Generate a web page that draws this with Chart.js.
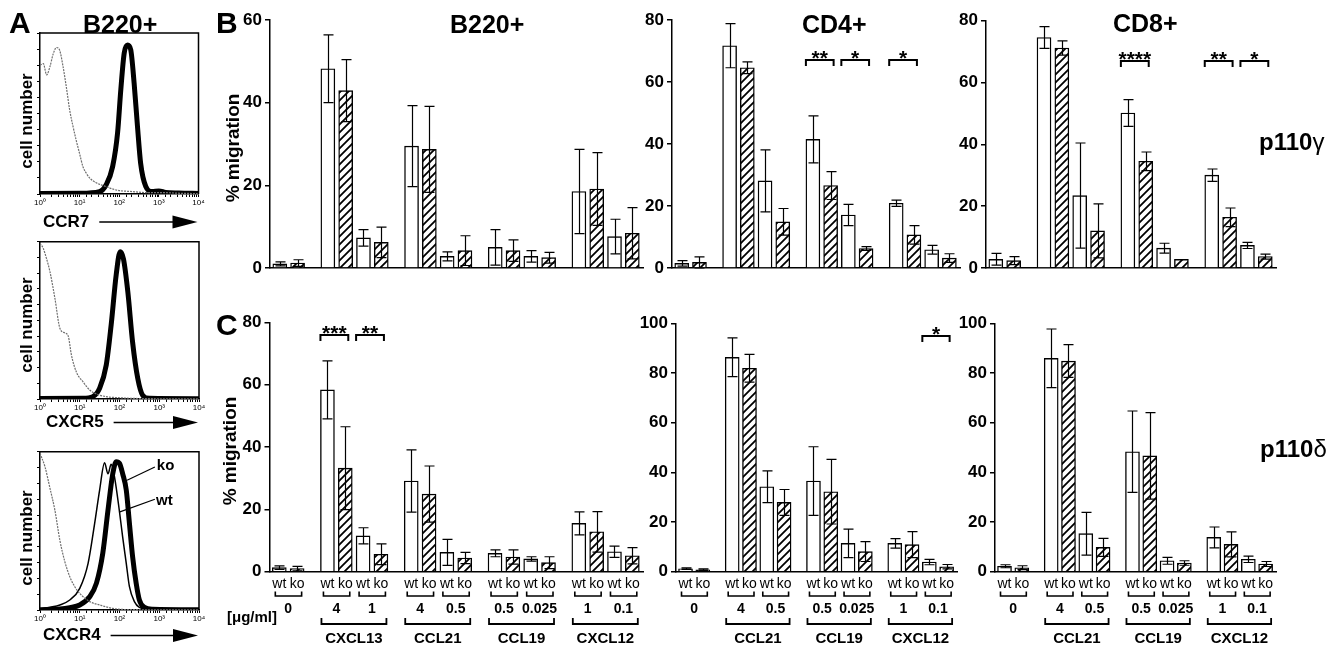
<!DOCTYPE html>
<html><head><meta charset="utf-8">
<script src="https://cdn.jsdelivr.net/npm/chart.js@4.4.1/dist/chart.umd.min.js"></script>
<style>
html,body{margin:0;padding:0;background:#fff}
body{width:1341px;height:645px;position:relative;overflow:hidden;font-family:"Liberation Sans",Arial,Helvetica,sans-serif}
canvas{position:absolute}
.t{position:absolute;font-weight:bold;color:#000;white-space:nowrap;line-height:1}
</style></head><body>
<script>
// ================= DATA =================
// x-axis structure (chemokine groups and concentrations, ug/ml)
const chemB = ['', 'CXCL13', 'CCL21', 'CCL19', 'CXCL12'];
const concB = [['0'], ['4', '1'], ['4', '0.5'], ['0.5', '0.025'], ['1', '0.1']];
const chemT = ['', 'CCL21', 'CCL19', 'CXCL12'];
const concT = [['0'], ['4', '0.5'], ['0.5', '0.025'], ['1', '0.1']];
const pairLabels = ['wt', 'ko'];
const unitLabel = '[\u03bcg/ml]';

// ---- B: p110gamma, % migration (mean, error) ----
const gB220_wt    = [1.0, 48.2, 7.3, 29.5, 2.8, 5.0, 2.8, 18.5, 7.6];
const gB220_wtErr = [0.5, 8.2, 2.0, 9.8, 1.1, 4.3, 1.4, 10.2, 4.2];
const gB220_ko    = [1.2, 42.9, 6.2, 28.7, 4.2, 4.2, 2.5, 19.1, 8.4];
const gB220_koErr = [0.8, 7.5, 3.7, 10.4, 3.6, 2.6, 1.3, 8.8, 6.2];

const gCD4_wt    = [1.5, 71.7, 28.1, 41.5, 17.1, 20.9, 5.9];
const gCD4_wtErr = [0.9, 7.1, 10.0, 7.6, 3.4, 1.0, 1.4];
const gCD4_ko    = [1.8, 64.6, 14.9, 26.6, 6.3, 10.7, 3.2];
const gCD4_koErr = [1.8, 1.9, 4.3, 4.5, 0.6, 3.0, 1.4];

const gCD8_wt    = [2.8, 74.5, 23.4, 50.1, 6.4, 30.0, 7.3];
const gCD8_wtErr = [1.9, 3.5, 17.0, 4.3, 1.6, 2.0, 1.0];
const gCD8_ko    = [2.4, 71.1, 12.0, 34.5, 2.8, 16.4, 3.7];
const gCD8_koErr = [1.3, 2.3, 8.7, 3.0, 0.0, 3.0, 0.8];

// ---- C: p110delta ----
const dB220_wt    = [1.3, 58.3, 11.5, 29.1, 6.2, 5.9, 4.1, 15.5, 6.4];
const dB220_wtErr = [0.6, 9.3, 2.6, 10.0, 4.2, 1.1, 0.7, 3.7, 1.8];
const dB220_ko    = [1.0, 33.2, 5.6, 24.9, 4.4, 4.7, 2.9, 12.8, 5.1];
const dB220_koErr = [0.7, 13.3, 3.3, 9.0, 1.8, 2.3, 1.9, 6.5, 2.6];

const dCD4_wt    = [1.2, 86.3, 34.2, 36.5, 11.4, 11.4, 3.9];
const dCD4_wtErr = [0.3, 7.8, 6.4, 13.8, 5.7, 1.9, 1.1];
const dCD4_ko    = [0.8, 81.9, 27.9, 32.2, 8.1, 10.9, 2.0];
const dCD4_koErr = [0.3, 5.6, 5.2, 13.0, 4.0, 5.2, 0.9];

const dCD8_wt    = [2.2, 85.9, 15.3, 48.3, 4.4, 13.8, 5.0];
const dCD8_wtErr = [0.6, 11.8, 8.6, 16.4, 1.4, 4.2, 1.3];
const dCD8_ko    = [1.6, 84.8, 9.8, 46.6, 3.5, 11.0, 3.1];
const dCD8_koErr = [0.8, 6.6, 3.6, 17.4, 0.9, 5.0, 1.0];

// significance: [condition index, stars]
const sig_gCD4 = [[3, '**'], [4, '*'], [5, '*']];
const sig_gCD8 = [[3, '****'], [5, '**'], [6, '*']];
const sig_dB220 = [[1, '***'], [2, '**']];
const sig_dCD4 = [[6, '*']];

// ---- A: flow histograms (log10 fluorescence, % of max) ----
const h1_grayX = [0,0.083,0.167,0.25,0.333,0.417,0.5,0.583,0.667,0.75,0.833,0.917,1.0,1.083,1.167,1.25,1.417,1.667,1.917,2.333,2.75,3.167,3.583,4];
const h1_grayY = [80,81,74,79,87,91,89,79,66,52,42,33,25,17,13,10,7,4.6,2.5,1.5,0.8,0.8,0.4,0.3];
const h1_koX = [0,1.0,1.5,1.667,1.833,1.958,2.04,2.125,2.21,2.29,2.375,2.46,2.54,2.67,2.83,3.0,3.17,3.5,4];
const h1_koY = [0.3,0.5,1.5,5.6,17,38,65,87.5,92.5,89.6,69,42,19,4.6,1.5,1.9,1,0.6,0.3];
const h1_wtY = [0.3,0.6,2,7,20,42,68,88,92,88,66,40,18,4.5,1.5,1.8,1,0.6,0.3];

const h2_grayX = [0,0.08,0.167,0.25,0.375,0.5,0.625,0.71,0.79,0.917,1.08,1.25,1.417,1.667,2,2.33,2.75,4];
const h2_grayY = [99,95.8,89,81,64,45,42,40,28,17,11,5.7,3.2,1.5,0.8,0.4,0.2,0.1];
const h2_koX = [0,1.08,1.33,1.5,1.667,1.79,1.917,2.017,2.1,2.21,2.33,2.46,2.58,2.75,4];
const h2_koY = [0.3,0.4,1.5,6.8,21.6,47,79,93.6,89,68,36,13,2.5,0.4,0.2];
const h2_wtY = [0.3,0.4,1.6,7.2,22.5,48,80,93,88,67,35,12.5,2.4,0.4,0.2];

const h3_grayX = [0,0.125,0.25,0.375,0.5,0.625,0.75,0.875,1.0,1.25,1.5,1.83,2.33,4];
const h3_grayY = [99,90.5,77,63,44,30.5,21,14.7,10.5,5.3,3.2,1,0.2,0.1];
const h3_wtX = [0,0.25,0.5,0.75,1.0,1.21,1.375,1.5,1.625,1.71,1.79,1.875,2.0,2.08,2.17,2.25,2.375,2.5,2.75,4];
const h3_wtY = [0.5,1.7,3.2,6.3,13.7,29.5,54.7,75.8,93,86,92,84,62,46,29.5,14.7,5.3,1.7,0.5,0.1];
const h3_koX = [0,0.5,0.75,1.0,1.25,1.42,1.58,1.71,1.83,1.92,2.0,2.08,2.17,2.25,2.33,2.42,2.5,2.625,2.83,4];
const h3_koY = [0.2,0.6,1.5,3.2,8.4,17,36,63,86,93.7,92.6,86,75.8,54.7,33.7,16.8,6.3,1.7,0.4,0.1];
const histDecades = [0, 1, 2, 3, 4];

// ================= RENDERING =================
const FONT = '"Liberation Sans", Arial, Helvetica, sans-serif';
const SUP = ['\u2070', '\u00b9', '\u00b2', '\u00b3', '\u2074'];
const GAP = 0.7;

function hatchPattern() {
  const c = document.createElement('canvas'); c.width = 8; c.height = 8;
  const g = c.getContext('2d');
  g.fillStyle = '#fff'; g.fillRect(0, 0, 8, 8);
  g.strokeStyle = '#000'; g.lineWidth = 1.8;
  g.beginPath();
  g.moveTo(-1, 9); g.lineTo(9, -1);
  g.moveTo(-1, 1); g.lineTo(1, -1);
  g.moveTo(7, 9); g.lineTo(9, 7);
  g.stroke();
  return g.createPattern(c, 'repeat');
}
const HATCH = hatchPattern();

function positions(conc) {
  const out = []; let i = 0;
  conc.forEach((g, gi) => g.forEach(() => { out.push([i + gi * GAP, i + 1 + gi * GAP]); i += 2; }));
  return out;
}

function text(str, x, base, fs, weight) {
  const d = document.createElement('div'); d.className = 't'; d.textContent = str;
  d.style.fontSize = fs + 'px'; d.style.left = x + 'px'; d.style.top = (base - 0.8465 * fs) + 'px';
  if (weight) d.style.fontWeight = weight;
  document.body.appendChild(d); return d;
}
function vtext(str, cx, cy, fs) {
  const d = document.createElement('div'); d.className = 't'; d.textContent = str;
  d.style.fontSize = fs + 'px'; d.style.left = cx + 'px'; d.style.top = cy + 'px';
  d.style.transform = 'translate(-50%,-50%) rotate(-90deg)';
  document.body.appendChild(d);
}
function makeCanvas(left, top, w, h) {
  const cv = document.createElement('canvas');
  cv.width = w; cv.height = h;
  cv.style.left = left + 'px'; cv.style.top = top + 'px';
  cv.style.width = w + 'px'; cv.style.height = h + 'px';
  document.body.appendChild(cv);
  return cv.getContext('2d');
}

function bracket(ctx, x1, x2, y, dy) {
  ctx.beginPath(); ctx.moveTo(x1, y + dy); ctx.lineTo(x1, y); ctx.lineTo(x2, y); ctx.lineTo(x2, y + dy); ctx.stroke();
}

function barPlugin(spec) {
  return {
    id: 'ann',
    afterDatasetsDraw(chart) {
      const ctx = chart.ctx, xs = chart.scales.x, ys = chart.scales.y;
      ctx.save();
      ctx.strokeStyle = '#000'; ctx.fillStyle = '#000'; ctx.lineWidth = 1.2;
      spec.pos.forEach((p, i) => {
        [[p[0], spec.wt[i], spec.wtErr[i]], [p[1], spec.ko[i], spec.koErr[i]]].forEach(([x, v, e]) => {
          if (!e) return;
          const px = Math.round(xs.getPixelForValue(x)) + 0.5;
          const yt = ys.getPixelForValue(v + e), yb = ys.getPixelForValue(Math.max(0, v - e));
          ctx.beginPath();
          ctx.moveTo(px, yt); ctx.lineTo(px, yb);
          ctx.moveTo(px - 5, yt); ctx.lineTo(px + 5, yt);
          ctx.moveTo(px - 5, yb); ctx.lineTo(px + 5, yb);
          ctx.stroke();
        });
      });
      // significance brackets
      ctx.lineWidth = 2;
      spec.sig.forEach(([c, s]) => {
        const p = spec.pos[c];
        const x1 = xs.getPixelForValue(p[0]) - 7, x2 = xs.getPixelForValue(p[1]) + 3;
        const y = Math.round(ys.getPixelForValue(spec.sigLevel));
        bracket(ctx, x1, x2, y, 6);
        ctx.font = 'bold 21px ' + FONT; ctx.textAlign = 'center'; ctx.textBaseline = 'alphabetic';
        ctx.fillText(s, (x1 + x2) / 2, y - 7 + 0.57 * 21);
      });
      // category labels below the axis
      if (spec.xlabels) {
        const b = chart.chartArea.bottom;
        ctx.textAlign = 'center'; ctx.textBaseline = 'middle';
        let ci = 0;
        spec.conc.forEach((grp, gi) => {
          const first = ci;
          grp.forEach(cv => {
            const p = spec.pos[ci];
            const xw = xs.getPixelForValue(p[0]), xk = xs.getPixelForValue(p[1]);
            ctx.font = '14px ' + FONT;
            ctx.fillText(pairLabels[0], xw, b + 12.5);
            ctx.fillText(pairLabels[1], xk, b + 12.5);
            ctx.lineWidth = 1.6;
            bracket(ctx, xw - 4, xk + 4.5, Math.round(b + 24.5), -4.5);
            ctx.font = 'bold 14px ' + FONT;
            ctx.fillText(cv, (xw + xk) / 2, b + 37);
            ci++;
          });
          if (spec.chem[gi]) {
            const x1 = xs.getPixelForValue(spec.pos[first][0]) - 6;
            const x2 = xs.getPixelForValue(spec.pos[ci - 1][1]) + 5.5;
            ctx.lineWidth = 1.8;
            bracket(ctx, x1, x2, Math.round(b + 52.5), -6);
            ctx.font = 'bold 15px ' + FONT;
            ctx.fillText(spec.chem[gi], (x1 + x2) / 2, b + 67.5);
          }
        });
      }
      ctx.restore();
    }
  };
}

function makeBar(spec) {
  const ctx = makeCanvas(spec.left, spec.top, spec.w, spec.h);
  const a = spec.area;
  spec.pos = positions(spec.conc);
  const xmax = spec.pos[spec.pos.length - 1][1] + 0.6;
  new Chart(ctx, {
    type: 'bar',
    data: {
      datasets: [
        { label: 'wt', data: spec.pos.map((p, i) => ({ x: p[0], y: spec.wt[i] })), backgroundColor: '#fff',
          borderColor: '#000', borderWidth: 1.4, barThickness: 14, grouped: false },
        { label: 'ko', data: spec.pos.map((p, i) => ({ x: p[1], y: spec.ko[i] })), backgroundColor: HATCH,
          borderColor: '#000', borderWidth: 1.4, barThickness: 14, grouped: false }
      ]
    },
    options: {
      responsive: false, animation: false, devicePixelRatio: 1,
      layout: { padding: { left: 0, right: spec.left + spec.w - a.right, top: a.top - spec.top, bottom: 0 } },
      plugins: { legend: { display: false }, tooltip: { enabled: false } },
      scales: {
        x: { type: 'linear', min: -0.55, max: xmax, offset: false,
             ticks: { display: false }, grid: { display: false },
             border: { display: true, color: '#000', width: 1.5 },
             afterFit: s => { s.height = spec.top + spec.h - a.bottom; } },
        y: { min: 0, max: spec.ymax,
             ticks: { stepSize: 20, color: '#000', font: { family: FONT, size: 17, weight: 'bold' }, padding: 3 },
             grid: { display: true, drawOnChartArea: false, drawTicks: true, tickLength: 5, color: '#000', lineWidth: 1.5 },
             border: { display: true, color: '#000', width: 1.5 },
             afterFit: s => { s.width = a.left - spec.left; } }
      }
    },
    plugins: [barPlugin(spec)]
  });
}

function histPlugin(spec) {
  return {
    id: 'hann',
    afterDraw(chart) {
      const ctx = chart.ctx, ca = chart.chartArea, xs = chart.scales.x, ys = chart.scales.y;
      ctx.save();
      ctx.strokeStyle = '#000'; ctx.fillStyle = '#000'; ctx.lineWidth = 1.5;
      ctx.beginPath(); ctx.moveTo(ca.left, ca.top); ctx.lineTo(ca.right, ca.top); ctx.lineTo(ca.right, ca.bottom); ctx.stroke();
      // axis label with arrow
      const ty = ca.bottom + spec.labDy;
      ctx.font = 'bold 17px ' + FONT; ctx.textAlign = 'left'; ctx.textBaseline = 'middle';
      ctx.fillText(spec.xlabel, spec.labX - spec.left, ty);
      const tw = ctx.measureText(spec.xlabel).width;
      ctx.lineWidth = 1.6;
      ctx.beginPath(); ctx.moveTo(spec.labX - spec.left + tw + 10, ty); ctx.lineTo(ca.right - 24, ty); ctx.stroke();
      ctx.beginPath(); ctx.moveTo(ca.right - 26, ty - 6.5); ctx.lineTo(ca.right - 1, ty); ctx.lineTo(ca.right - 26, ty + 6.5); ctx.closePath(); ctx.fill();
      // curve labels
      if (spec.notes) {
        ctx.font = 'bold 15px ' + FONT; ctx.lineWidth = 1.2;
        spec.notes.forEach(n => {
          const tx = xs.getPixelForValue(Math.pow(10, n.t[0])), tyy = ys.getPixelForValue(n.t[1]);
          ctx.fillText(n.s, tx, tyy);
          ctx.beginPath();
          ctx.moveTo(xs.getPixelForValue(Math.pow(10, n.a[0])), ys.getPixelForValue(n.a[1]));
          ctx.lineTo(xs.getPixelForValue(Math.pow(10, n.b[0])), ys.getPixelForValue(n.b[1]));
          ctx.stroke();
        });
      }
      ctx.restore();
    }
  };
}

function makeHist(spec) {
  const ctx = makeCanvas(spec.left, spec.top, spec.w, spec.h);
  const a = spec.area;
  new Chart(ctx, {
    type: 'line',
    data: {
      datasets: spec.series.map(s => ({
        data: s.x.map((l, i) => ({ x: Math.pow(10, l), y: s.y[i] })),
        borderColor: s.c, borderWidth: s.w, borderDash: s.d || [], pointRadius: 0,
        cubicInterpolationMode: 'monotone', fill: false
      }))
    },
    options: {
      responsive: false, animation: false, devicePixelRatio: 1,
      layout: { padding: { left: 0, right: spec.left + spec.w - a.right, top: a.top - spec.top, bottom: 0 } },
      plugins: { legend: { display: false }, tooltip: { enabled: false } },
      scales: {
        x: { type: 'logarithmic', min: Math.pow(10, histDecades[0]), max: Math.pow(10, histDecades[histDecades.length - 1]),
             ticks: { color: '#000', font: { family: FONT, size: 8 }, padding: 1, maxRotation: 0, autoSkip: false,
                      callback: v => { const e = Math.log10(v); const r = Math.round(e);
                        return (Math.abs(e - r) < 1e-6 && histDecades.includes(r)) ? '10' + SUP[r] : ''; } },
             grid: { display: true, drawOnChartArea: false, tickLength: 3, color: '#000', lineWidth: 1 },
             border: { display: true, color: '#000', width: 1.5 },
             afterFit: s => { s.height = spec.top + spec.h - a.bottom; } },
        y: { min: 0, max: 100, ticks: { display: false, stepSize: 10 },
             grid: { display: true, drawOnChartArea: false, tickLength: 3, color: '#000', lineWidth: 1 },
             border: { display: true, color: '#000', width: 1.5 },
             afterFit: s => { s.width = a.left - spec.left; } }
      }
    },
    plugins: [histPlugin(spec)]
  });
}

const GRAY = '#707070';
makeHist({ left: 0, top: 0, w: 210, h: 238, area: { left: 40, right: 198.5, top: 33, bottom: 194 },
  xlabel: 'CCR7', labX: 43, labDy: 28,
  series: [ { x: h1_grayX, y: h1_grayY, c: GRAY, w: 1.2, d: [2, 1] },
            { x: h1_koX, y: h1_koY, c: '#000', w: 5 },
            { x: h1_koX, y: h1_wtY, c: '#000', w: 1.5 } ] });
makeHist({ left: 0, top: 232, w: 210, h: 205, area: { left: 40, right: 199, top: 241.7, bottom: 399 },
  xlabel: 'CXCR5', labX: 46, labDy: 23.5,
  series: [ { x: h2_grayX, y: h2_grayY, c: GRAY, w: 1.2, d: [2, 1] },
            { x: h2_koX, y: h2_koY, c: '#000', w: 5 },
            { x: h2_koX, y: h2_wtY, c: '#000', w: 1.5 } ] });
makeHist({ left: 0, top: 440, w: 210, h: 205, area: { left: 40, right: 199, top: 451.7, bottom: 610 },
  xlabel: 'CXCR4', labX: 43, labDy: 25.5,
  series: [ { x: h3_grayX, y: h3_grayY, c: GRAY, w: 1.2, d: [2, 1] },
            { x: h3_koX, y: h3_koY, c: '#000', w: 5 },
            { x: h3_wtX, y: h3_wtY, c: '#000', w: 1.5 } ],
  notes: [ { s: 'ko', t: [2.94, 91], a: [2.89, 90.3], b: [2.19, 82] },
           { s: 'wt', t: [2.92, 69], a: [2.89, 70], b: [2.01, 62] } ] });

makeBar({ left: 200, top: 0, w: 450, h: 300, area: { left: 270, right: 643, top: 20, bottom: 268 }, ymax: 60,
  conc: concB, chem: chemB, wt: gB220_wt, wtErr: gB220_wtErr, ko: gB220_ko, koErr: gB220_koErr, sig: [], sigLevel: 0, xlabels: false });
makeBar({ left: 600, top: 0, w: 370, h: 300, area: { left: 672, right: 960, top: 20, bottom: 268 }, ymax: 80,
  conc: concT, chem: chemT, wt: gCD4_wt, wtErr: gCD4_wtErr, ko: gCD4_ko, koErr: gCD4_koErr, sig: sig_gCD4, sigLevel: 67, xlabels: false });
makeBar({ left: 930, top: 0, w: 411, h: 300, area: { left: 986, right: 1276, top: 20.5, bottom: 268 }, ymax: 80,
  conc: concT, chem: chemT, wt: gCD8_wt, wtErr: gCD8_wtErr, ko: gCD8_ko, koErr: gCD8_koErr, sig: sig_gCD8, sigLevel: 67, xlabels: false });
makeBar({ left: 200, top: 300, w: 450, h: 345, area: { left: 269.5, right: 643, top: 322.3, bottom: 571.7 }, ymax: 80,
  conc: concB, chem: chemB, wt: dB220_wt, wtErr: dB220_wtErr, ko: dB220_ko, koErr: dB220_koErr, sig: sig_dB220, sigLevel: 76, xlabels: true });
makeBar({ left: 600, top: 300, w: 370, h: 345, area: { left: 676, right: 957, top: 323.3, bottom: 571.7 }, ymax: 100,
  conc: concT, chem: chemT, wt: dCD4_wt, wtErr: dCD4_wtErr, ko: dCD4_ko, koErr: dCD4_koErr, sig: sig_dCD4, sigLevel: 95, xlabels: true });
makeBar({ left: 930, top: 300, w: 411, h: 345, area: { left: 995, right: 1276, top: 323.3, bottom: 571.7 }, ymax: 100,
  conc: concT, chem: chemT, wt: dCD8_wt, wtErr: dCD8_wtErr, ko: dCD8_ko, koErr: dCD8_koErr, sig: [], sigLevel: 0, xlabels: true });

// ---- free text ----
text('A', 9, 33, 30);
text('B220+', 83, 33, 25);
vtext('cell number', 25.5, 121, 17);
vtext('cell number', 25.5, 325, 17);
vtext('cell number', 25.5, 538, 17);
text('B', 216, 33, 30);
text('B220+', 450, 33, 25);
text('CD4+', 802, 33, 25);
text('CD8+', 1113, 32.5, 25);
vtext('% migration', 231.5, 148, 19);
text('C', 216, 335, 30);
vtext('% migration', 229, 451, 19);
text(unitLabel, 227, 622, 15);
const pg = text('p110', 1259, 150, 24); const sg = document.createElement('span'); sg.textContent = '\u03b3'; sg.style.fontWeight = 'normal'; pg.appendChild(sg);
const pd = text('p110', 1260, 457, 24); const sd = document.createElement('span'); sd.textContent = '\u03b4'; sd.style.fontWeight = 'normal'; pd.appendChild(sd);
</script>
</body></html>
